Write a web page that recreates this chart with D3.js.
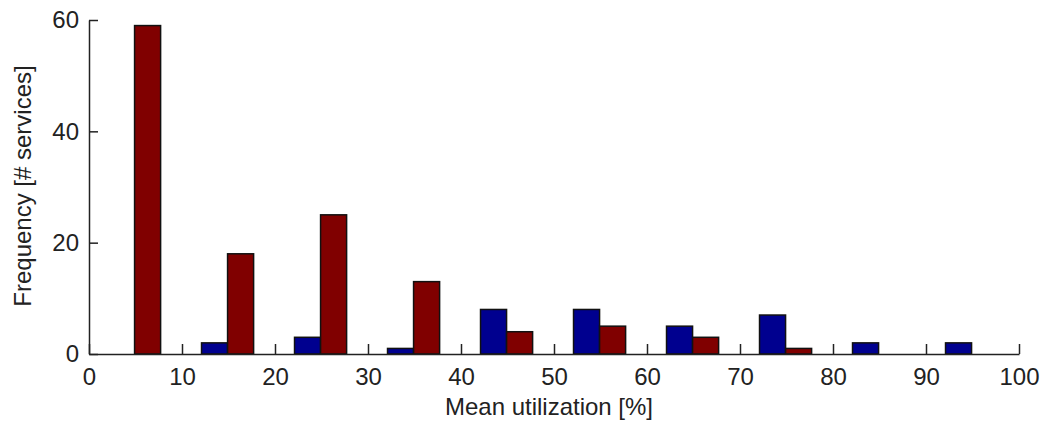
<!DOCTYPE html>
<html>
<head>
<meta charset="utf-8">
<script src="https://cdn.jsdelivr.net/npm/d3@7"></script>
<style>
  body { margin: 0; background: #fff; }
  text { font-family: "Liberation Sans", Arial, sans-serif; fill: #222; }
</style>
</head>
<body>
<svg id="chart" width="1042" height="427"></svg>
<script>
// bin centres and counts per series
const binCenters = [4.9, 14.9, 24.9, 34.9, 44.9, 54.9, 64.9, 74.9, 84.9, 94.9];
const blueCounts = [0, 2, 3, 1, 8, 8, 5, 7, 2, 2];
const redCounts  = [59, 18, 25, 13, 4, 5, 3, 1, 0, 0];
const xTicks = [0, 10, 20, 30, 40, 50, 60, 70, 80, 90, 100];
const yTicks = [0, 20, 40, 60];

const svg = d3.select("#chart");
const x = d3.scaleLinear().domain([0, 100]).range([89, 1019]);
const y = d3.scaleLinear().domain([0, 60]).range([354, 20]);
const barW = 2.8; // in data units

const bars = [];
binCenters.forEach((c, i) => {
  bars.push({x0: c - barW, x1: c, v: blueCounts[i], color: "#00008f"});
  bars.push({x0: c, x1: c + barW, v: redCounts[i], color: "#800000"});
});

svg.append("g").selectAll("rect")
  .data(bars.filter(d => d.v > 0))
  .join("rect")
  .attr("x", d => x(d.x0))
  .attr("width", d => x(d.x1) - x(d.x0))
  .attr("y", d => y(d.v))
  .attr("height", d => y(0) - y(d.v))
  .attr("fill", d => d.color)
  .attr("stroke", "#111")
  .attr("stroke-width", 1.5);

// x axis, ticks pointing inward
const xAxis = svg.append("g")
  .attr("transform", `translate(0,${y(0)})`)
  .call(d3.axisBottom(x).tickValues(xTicks).tickSizeInner(-10).tickSizeOuter(0).tickPadding(14));
xAxis.select(".domain").attr("stroke", "#222").attr("stroke-width", 1.5);
xAxis.selectAll(".tick line").attr("stroke", "#222").attr("stroke-width", 1.5);
xAxis.selectAll("text").attr("font-size", 24).attr("font-family", "Liberation Sans, Arial, sans-serif").attr("fill", "#222");

const yAxis = svg.append("g")
  .attr("transform", `translate(${x(0)},0)`)
  .call(d3.axisLeft(y).tickValues(yTicks).tickSizeInner(-9).tickSizeOuter(0).tickPadding(10));
yAxis.select(".domain").attr("stroke", "#222").attr("stroke-width", 1.5);
yAxis.selectAll(".tick line").attr("stroke", "#222").attr("stroke-width", 1.5);
yAxis.selectAll("text").attr("font-size", 24).attr("font-family", "Liberation Sans, Arial, sans-serif").attr("fill", "#222");

svg.append("text")
  .attr("x", 549).attr("y", 415)
  .attr("text-anchor", "middle")
  .attr("font-size", 24)
  .text("Mean utilization [%]");

svg.append("text")
  .attr("transform", "translate(31,186) rotate(-90)")
  .attr("text-anchor", "middle")
  .attr("font-size", 24)
  .text("Frequency [# services]");
</script>
</body>
</html>
